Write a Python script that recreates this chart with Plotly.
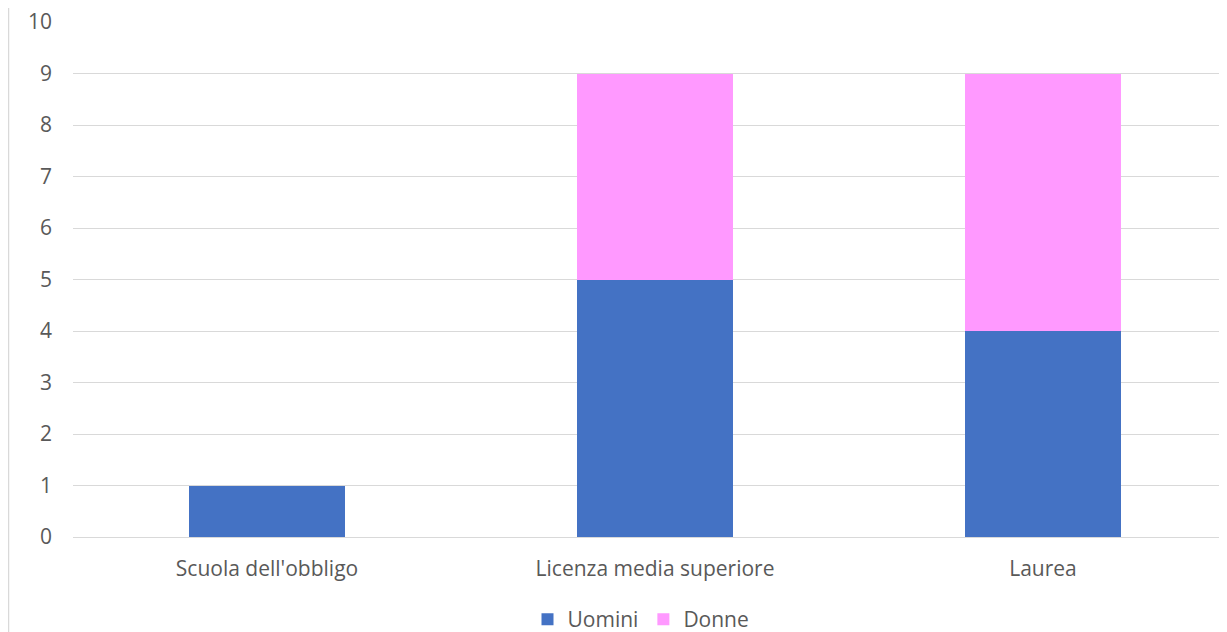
import plotly.graph_objects as go

categories = ["Scuola dell'obbligo", "Licenza media superiore", "Laurea"]
uomini = [1, 5, 4]
donne = [0, 4, 5]
y_ticks = list(range(0, 11))

# page has 8px body margin; figure may extend slightly past the viewport bottom
W, H = 1219, 632
L, R, T, B = 65, 0, 14, 102
plot_h = H - T - B
plot_w = W - L - R

fig = go.Figure()
fig.add_trace(go.Bar(x=categories, y=uomini, name="Uomini", marker=dict(color="#4472C4", line=dict(width=0))))
fig.add_trace(go.Bar(x=categories, y=donne, name="Donne", marker=dict(color="#FF99FF", line=dict(width=0))))

fs = 21
fig.update_layout(
    width=W, height=H,
    margin=dict(l=L, r=R, t=T, b=B),
    barmode="stack",
    bargap=0.6,
    plot_bgcolor="white",
    paper_bgcolor="white",
    font=dict(family="Open Sans, Liberation Sans, sans-serif", size=fs, color="#595959"),
    legend=dict(orientation="h", x=(641 - 8 - L) / plot_w, xanchor="center", y=-(621 - 538) / plot_h, yanchor="middle",
                font=dict(size=fs, color="#595959"), traceorder="normal", itemwidth=30),
    xaxis=dict(range=[-0.5, -0.5 + plot_w / 388], showgrid=False, showline=False, ticks="",
               ticklabelstandoff=17, tickfont=dict(size=fs, color="#595959")),
    yaxis=dict(range=[0, 10.0001], tickmode="array", tickvals=y_ticks, showgrid=True, gridcolor="#D9D9D9", gridwidth=1,
               zeroline=True, zerolinecolor="#D9D9D9", zerolinewidth=1, showline=False, ticks="",
               ticklabeloverflow="allow", automargin=False,
               ticklabelstandoff=20, tickfont=dict(size=fs, color="#595959")),
    shapes=[dict(type="line", xref="paper", yref="paper", x0=(0.5 - L) / plot_w, x1=(0.5 - L) / plot_w,
                 y0=-(B + 5) / plot_h, y1=1 + (T + 5) / plot_h, line=dict(color="#D9D9D9", width=1.5))],
)

fig.write_html("out.html")
